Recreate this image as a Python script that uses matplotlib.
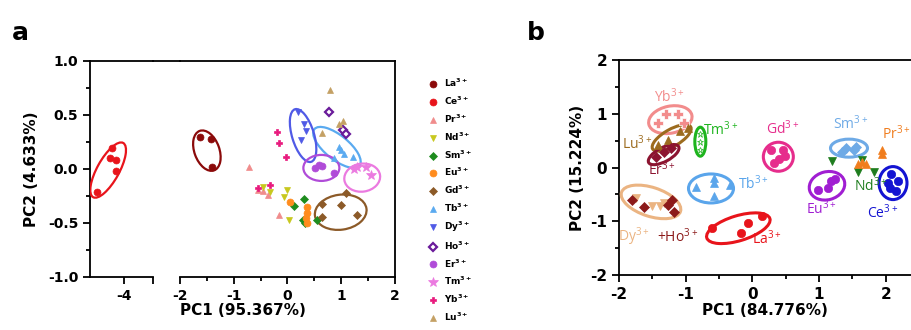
import numpy as np
import matplotlib
matplotlib.use("Agg")
import matplotlib.pyplot as plt
from matplotlib.patches import Ellipse
from matplotlib.transforms import ScaledTranslation
from matplotlib.lines import Line2D
from matplotlib.ticker import MultipleLocator

plt.rcParams['font.family'] = ['Liberation Sans Narrow', 'DejaVu Sans']
plt.rcParams['axes.unicode_minus'] = False

# ---- PCA scores, panel a (14 ions) ----
ions = ['La', 'Ce', 'Pr', 'Nd', 'Sm', 'Eu', 'Gd', 'Tb', 'Dy', 'Ho', 'Er', 'Tm', 'Yb', 'Lu']

a_pc1 = {
    'La': [-1.63, -1.42, -1.41],
    'Ce': [-4.23, -4.27, -4.16, -4.16, -4.51],
    'Pr': [-0.71, -0.54, -0.45, -0.37, -0.16],
    'Nd': [-0.45, -0.32, 0.00, -0.07, 0.02],
    'Sm': [0.13, 0.30, 0.29, 0.32, 0.54],
    'Eu': [0.04, 0.36, 0.36, 0.34, 0.37],
    'Gd': [0.65, 0.99, 1.29, 0.65, 1.08],
    'Tb': [0.95, 0.99, 0.86, 1.21, 1.05],
    'Dy': [0.19, 0.30, 0.34, 0.26],
    'Ho': [0.77, 1.04, 1.08],
    'Er': [0.58, 0.65, 0.52, 0.86],
    'Tm': [1.55, 1.30, 1.46, 1.23],
    'Yb': [-0.20, -0.16, -0.03, -0.32, -0.54],
    'Lu': [0.80, 0.95, 1.03, 0.64],
}
a_pc2 = {
    'La': [0.30, 0.28, 0.02],
    'Ce': [0.19, 0.10, 0.08, -0.02, -0.21],
    'Pr': [0.02, -0.19, -0.20, -0.24, -0.43],
    'Nd': [-0.17, -0.21, -0.19, -0.26, -0.47],
    'Sm': [-0.34, -0.28, -0.47, -0.50, -0.47],
    'Eu': [-0.31, -0.35, -0.41, -0.45, -0.50],
    'Gd': [-0.32, -0.33, -0.43, -0.44, -0.22],
    'Tb': [0.20, 0.18, 0.10, 0.11, 0.14],
    'Dy': [0.53, 0.42, 0.35, 0.27],
    'Ho': [0.53, 0.36, 0.32],
    'Er': [0.04, 0.03, 0.01, -0.04],
    'Tm': [-0.06, 0.02, 0.02, 0.00],
    'Yb': [0.34, 0.24, 0.11, -0.15, -0.18],
    'Lu': [0.73, 0.42, 0.44, 0.33],
}
a_colors = {
    'La': '#8B0A0A', 'Ce': '#E8141B', 'Pr': '#F08C8C', 'Nd': '#C8C81E',
    'Sm': '#1E8C1E', 'Eu': '#FF8C1E', 'Gd': '#8C5A28', 'Tb': '#5AAAF0',
    'Dy': '#505AE6', 'Ho': '#6A1B9A', 'Er': '#B04CD8', 'Tm': '#EB7AE0',
    'Yb': '#E8197D', 'Lu': '#C4A064',
}
a_markers = {
    'La': 'o', 'Ce': 'o', 'Pr': '^', 'Nd': 'v', 'Sm': 'D', 'Eu': 'o', 'Gd': 'D',
    'Tb': '^', 'Dy': 'v', 'Ho': 'D', 'Er': 'o', 'Tm': '*', 'Yb': 'P', 'Lu': '^',
}
# confidence ellipses: ion, centre pc1, centre pc2, width, height (inch), angle
a_ellipses = [
    ('Ce', -4.30, -0.01, 0.62, 0.22, 61),
    ('La', -1.50, 0.17, 0.42, 0.25, -70),
    ('Gd', 0.99, -0.40, 0.52, 0.35, 8),
    ('Tb', 0.92, 0.20, 0.58, 0.24, -39),
    ('Dy', 0.29, 0.31, 0.55, 0.22, -73),
    ('Er', 0.63, 0.01, 0.36, 0.26, 0),
    ('Tm', 1.39, -0.08, 0.36, 0.28, 8),
]

# ---- PCA scores, panel b ----
b_pc1 = {
    'Yb': [-1.29, -1.12, -1.41, -1.02],
    'Lu': [-1.41, -1.27, -1.09, -0.97],
    'Er': [-1.44, -1.32, -1.22],
    'Tm': [-0.79, -0.78, -0.79],
    'Dy': [-1.74, -1.51, -1.39, -1.32],
    'Ho': [-1.81, -1.63, -1.27, -1.21, -1.17],
    'Tb': [-0.57, -0.57, -0.85, -0.57, -0.34],
    'La': [-0.60, -0.17, -0.06, 0.15],
    'Gd': [0.28, 0.46, 0.49, 0.40, 0.33],
    'Sm': [1.35, 1.53, 1.55, 1.40],
    'Eu': [0.98, 1.13, 1.18, 1.24],
    'Nd': [1.20, 1.65, 1.59, 1.83],
    'Pr': [1.94, 1.94, 1.59, 1.70, 1.65],
    'Ce': [2.08, 2.04, 2.18, 2.16, 2.06],
}
b_pc2 = {
    'Yb': [1.00, 1.00, 0.83, 0.83],
    'Lu': [0.42, 0.51, 0.67, 0.73],
    'Er': [0.20, 0.29, 0.36],
    'Tm': [0.62, 0.47, 0.33],
    'Dy': [-0.57, -0.72, -0.72, -0.66],
    'Ho': [-0.60, -0.73, -0.70, -0.60, -0.83],
    'Tb': [-0.20, -0.29, -0.36, -0.53, -0.33],
    'La': [-1.13, -1.21, -1.03, -0.90],
    'Gd': [0.33, 0.33, 0.21, 0.15, 0.08],
    'Sm': [0.29, 0.33, 0.39, 0.36],
    'Eu': [-0.41, -0.39, -0.26, -0.22],
    'Nd': [0.12, 0.14, -0.08, -0.08],
    'Pr': [0.33, 0.26, 0.07, 0.07, 0.11],
    'Ce': [-0.12, -0.28, -0.26, -0.43, -0.39],
}
b_colors = {
    'Yb': '#F28C8C', 'Lu': '#9C6B1E', 'Er': '#8C1430', 'Tm': '#1EB41E',
    'Dy': '#EBB482', 'Ho': '#8C1A1A', 'Tb': '#5AA5EB', 'La': '#E8141B',
    'Gd': '#E62D8C', 'Sm': '#6EAAE6', 'Eu': '#A01ED2', 'Nd': '#1E7D1E',
    'Pr': '#F07D1E', 'Ce': '#1414D2',
}
b_markers = {
    'Yb': 'P', 'Lu': '^', 'Er': 'D', 'Tm': '*', 'Dy': 'v', 'Ho': 'D', 'Tb': '^',
    'La': 'o', 'Gd': 'o', 'Sm': 'D', 'Eu': 'o', 'Nd': 'v', 'Pr': '^', 'Ce': 'o',
}
b_ellipses = [
    ('Yb', -1.23, 0.89, 0.44, 0.27, 12),
    ('Lu', -1.21, 0.55, 0.44, 0.17, 30),
    ('Er', -1.33, 0.24, 0.34, 0.14, 28),
    ('Tm', -0.78, 0.48, 0.11, 0.29, 0),
    ('Dy', -1.52, -0.64, 0.62, 0.29, -18),
    ('Tb', -0.62, -0.39, 0.45, 0.29, 0),
    ('La', -0.21, -1.13, 0.66, 0.25, 17),
    ('Gd', 0.39, 0.20, 0.30, 0.29, 0),
    ('Sm', 1.45, 0.36, 0.37, 0.18, 0),
    ('Eu', 1.12, -0.34, 0.36, 0.28, 15),
    ('Ce', 2.11, -0.29, 0.28, 0.33, 0),
]
# ion labels: text, pc1, pc2, colour key
b_labels = [
    ('Yb', -1.25, 1.31, 'Yb'), ('Tm', -0.48, 0.70, 'Tm'), ('Lu', -1.72, 0.45, 'Lu'),
    ('Er', -1.35, -0.05, 'Er'), ('Gd', 0.45, 0.73, 'Gd'), ('Sm', 1.48, 0.81, 'Sm'),
    ('Pr', 2.16, 0.62, 'Pr'), ('Tb', 0.02, -0.31, 'Tb'), ('Nd', 1.78, -0.33, 'Nd'),
    ('Eu', 1.03, -0.77, 'Eu'), ('Ce', 1.96, -0.85, 'Ce'), ('La', 0.22, -1.32, 'La'),
    ('Dy', -1.77, -1.29, 'Dy'), ('+Ho', -1.12, -1.29, 'Ho'),
]


def ion_tex(name):
    return name + r'$^{\mathregular{3+}}$'


def add_ellipse(ax, cx, cy, w, h, ang, color, lw):
    # ellipse sized in inches, centred on a data point
    tr = fig.dpi_scale_trans + ScaledTranslation(cx, cy, ax.transData)
    ax.add_patch(Ellipse((0, 0), w, h, angle=ang, transform=tr,
                         fill=False, edgecolor=color, lw=lw, zorder=3))


def style_axis(ax, fs=10):
    for s in ax.spines.values():
        s.set_linewidth(1.3)
    ax.tick_params(which='major', direction='out', length=5, width=1.3,
                   labelsize=fs)
    ax.tick_params(which='minor', direction='out', length=3, width=1.3)
    for lab in ax.get_xticklabels() + ax.get_yticklabels():
        lab.set_fontweight('bold')


fig = plt.figure(figsize=(9.12, 3.3), dpi=100)

# panel a: broken x axis
axL = fig.add_axes([90 / 912, 53 / 330, 63 / 912, 216 / 330])
axR = fig.add_axes([180 / 912, 53 / 330, 215 / 912, 216 / 330])
axL.set_xlim(-4.64, -3.46)
axR.set_xlim(-2, 2)
for ax in (axL, axR):
    ax.set_ylim(-1, 1)

axL.spines['right'].set_visible(False)
axR.spines['left'].set_visible(False)
axR.tick_params(axis='y', which='both', left=False, labelleft=False)
axL.set_xticks([-4, -3.46])
axL.set_xticklabels(['-4', ''])
axL.set_yticks([-1, -0.5, 0, 0.5, 1])
axL.set_yticklabels(['-1.0', '-0.5', '0.0', '0.5', '1.0'])
axL.yaxis.set_minor_locator(MultipleLocator(0.25))
axR.set_xticks([-2, -1, 0, 1, 2])
axR.set_xticklabels(['-2', '-1', '0', '1', '2'])
axR.xaxis.set_minor_locator(MultipleLocator(0.5))
style_axis(axL)
style_axis(axR)

for ion in ions:
    xs = np.array(a_pc1[ion])
    ys = np.array(a_pc2[ion])
    col = a_colors[ion]
    face = 'white' if ion == 'Ho' else col
    ms = 7.5 if ion == 'Tm' else 5
    if a_markers[ion] == 'D':
        ms = 4.3
    for ax in (axL, axR):
        ax.plot(xs, ys, ls='none', marker=a_markers[ion], ms=ms,
                mfc=face, mec=col, mew=1.6 if ion == 'Ho' else 0.5,
                zorder=4, label=ion_tex(ion) if ax is axR else None)
for ion, cx, cy, w, h, ang in a_ellipses:
    ax = axL if cx < -3 else axR
    add_ellipse(ax, cx, cy, w, h, ang, a_colors[ion], 1.6)

# continuous top frame across the break
fig.add_artist(Line2D([153 / 912, 180 / 912], [269 / 330, 269 / 330],
                      color='black', lw=1.3, transform=fig.transFigure))

axL.set_ylabel('PC2 (4.633%)', fontsize=11, fontweight='bold', labelpad=6)
fig.text(243 / 912, 12 / 330, 'PC1 (95.367%)', ha='center', va='bottom',
         fontsize=11, fontweight='bold')

handles, labels = axR.get_legend_handles_labels()
leg = fig.legend(handles, labels, loc='upper left',
                 bbox_to_anchor=(428 / 912, 1 - 77 / 330), frameon=False,
                 fontsize=6.5, labelspacing=0.6, handletextpad=0.8,
                 handlelength=1.0, borderaxespad=0, borderpad=0)
for t in leg.get_texts():
    t.set_fontweight('bold')

# panel b
axb = fig.add_axes([619 / 912, 55 / 330, 300 / 912, 215 / 330])
axb.set_xlim(-2, 2.5)
axb.set_ylim(-2, 2)
axb.set_xticks([-2, -1, 0, 1, 2])
axb.set_xticklabels(['-2', '-1', '0', '1', '2'])
axb.set_yticks([-2, -1, 0, 1, 2])
axb.set_yticklabels(['-2', '-1', '0', '1', '2'])
axb.xaxis.set_minor_locator(MultipleLocator(0.5))
axb.yaxis.set_minor_locator(MultipleLocator(0.5))
style_axis(axb, fs=11)

for ion, xs in b_pc1.items():
    col = b_colors[ion]
    mk = b_markers[ion]
    face = col
    edge = col
    ms = 6
    if ion == 'Tm':
        ms = 5
        face = 'white'
    if ion == 'Yb':
        edge = 'white'
        ms = 7
    if mk == 'D':
        ms = 5
    axb.plot(xs, b_pc2[ion], ls='none', marker=mk, ms=ms, mfc=face, mec=edge,
             mew=0.5, zorder=4)
for ion, cx, cy, w, h, ang in b_ellipses:
    add_ellipse(axb, cx, cy, w, h, ang, b_colors[ion], 2.2)
for txt, lx, ly, key in b_labels:
    axb.text(lx, ly, ion_tex(txt), color=b_colors[key], fontsize=10,
             ha='center', va='center', family=['Open Sans', 'DejaVu Sans'],
             zorder=5)

axb.set_ylabel('PC2 (15.224%)', fontsize=11, fontweight='bold', labelpad=4)
fig.text(765 / 912, 12 / 330, 'PC1 (84.776%)', ha='center', va='bottom',
         fontsize=11, fontweight='bold')

fig.text(12 / 912, 1 - 40 / 330, 'a', fontsize=18, fontweight='bold')
fig.text(527 / 912, 1 - 40 / 330, 'b', fontsize=18, fontweight='bold')

fig.savefig('out.png', dpi=100)
